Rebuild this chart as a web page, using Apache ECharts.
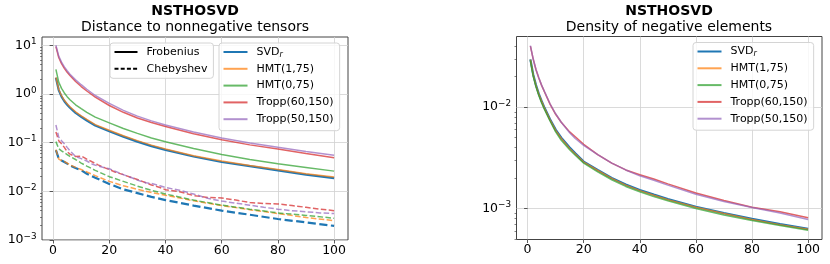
<!DOCTYPE html>
<html><head><meta charset="utf-8">
<script src="https://cdn.jsdelivr.net/npm/echarts@6/dist/echarts.min.js"></script>
<style>html,body{margin:0;padding:0;background:#fff}#c{width:830px;height:264px}</style>
</head><body><div id="c"></div>
<script>
// ---- data ----
const methods = ['SVD_r', 'HMT(1,75)', 'HMT(0,75)', 'Tropp(60,150)', 'Tropp(50,150)'];
const styleNames = ['Frobenius', 'Chebyshev'];
const xTicks = [0, 20, 40, 60, 80, 100];
const yTicksLeft = [0.001, 0.01, 0.1, 1, 10];
const yTicksRight = [0.001, 0.01];

const xsA = [1,2,3,4,5,6,8,10,12,15,20,25,30,35,40,50,60,70,80,90,100];
const xsB = [1,2,3,4,5,6,8,10,12,14,16,18,20,22,25,28,30,33,35,38,40,45,50,55,60,65,70,75,80,85,90,95,100];
const xsR = [1,2,3,4,5,6,8,10,12,15,17,20,25,30,35,40,45,50,60,70,80,90,100];

// Frobenius distance (left, solid), sampled at xsA
const svdF     = [2.15,1.2,0.88,0.71,0.6,0.52,0.41,0.34,0.285,0.225,0.172,0.133,0.105,0.085,0.071,0.052,0.040,0.033,0.027,0.022,0.0186];
const hmt175F  = [2.2,1.25,0.92,0.74,0.63,0.545,0.43,0.355,0.3,0.235,0.18,0.139,0.11,0.089,0.074,0.054,0.042,0.034,0.028,0.023,0.0197];
const hmt075F  = [3.2,1.75,1.3,1.05,0.88,0.76,0.6,0.5,0.42,0.335,0.255,0.195,0.155,0.125,0.104,0.076,0.057,0.045,0.037,0.031,0.026];
const tropp60F = [9.4,5.6,4.2,3.35,2.8,2.4,1.8,1.42,1.15,0.86,0.58,0.42,0.32,0.26,0.215,0.152,0.115,0.09,0.074,0.06,0.049];
const tropp50F = [10.0,6.0,4.5,3.6,3.0,2.55,1.95,1.55,1.25,0.93,0.64,0.46,0.35,0.28,0.23,0.165,0.125,0.098,0.08,0.066,0.055];

// Chebyshev distance (left, dashed)
const svdC     = [0.07,0.047,0.043,0.040,0.037,0.034,0.030,0.027,0.023,0.019,0.0142,0.011,0.0092,0.0077,0.0066,0.0051,0.0040,0.0033,0.0027,0.0023,0.00195];
const hmt175C  = [0.072,0.046,0.043,0.041,0.038,0.035,0.031,0.028,0.025,0.021,0.016,0.013,0.011,0.0095,0.0083,0.0064,0.0051,0.0042,0.0035,0.0029,0.0025];
const hmt075C  = [0.105,0.075,0.068,0.062,0.057,0.052,0.045,0.038,0.033,0.027,0.020,0.016,0.0128,0.0105,0.0088,0.0066,0.0052,0.0043,0.0036,0.0032,0.0028];
const tropp60C = [0.165,0.11,0.095,0.08,0.065,0.058,0.052,0.053,0.046,0.04,0.035,0.031,0.028,0.025,0.022,0.019,0.0175,0.015,0.0135,0.012,0.0108,0.0098,0.0082,0.0075,0.0073,0.0066,0.0059,0.0056,0.0055,0.0051,0.0047,0.0043,0.0040];
const tropp50C = [0.23,0.13,0.11,0.095,0.08,0.068,0.052,0.047,0.042,0.036,0.033,0.031,0.029,0.026,0.022,0.019,0.017,0.015,0.0145,0.013,0.012,0.0105,0.0088,0.0072,0.0063,0.0057,0.0052,0.0047,0.0043,0.0040,0.0038,0.0036,0.0035];

// Density of negative elements (right), sampled at xsR
const svdD     = [0.0296,0.021,0.0165,0.0135,0.0115,0.0099,0.0076,0.0060,0.0050,0.0040,0.0035,0.0029,0.0024,0.0020,0.00172,0.00152,0.00137,0.00124,0.00104,0.0009,0.00079,0.0007,0.00063];
const hmt175D  = [0.0294,0.0208,0.0163,0.0134,0.0114,0.0098,0.0075,0.0059,0.0049,0.0039,0.00345,0.00287,0.00237,0.00198,0.0017,0.0015,0.00135,0.00122,0.00103,0.00089,0.00078,0.00069,0.000625];
const hmt075D  = [0.0290,0.0203,0.0159,0.0130,0.0110,0.0095,0.0073,0.0057,0.0047,0.0038,0.00335,0.0028,0.0023,0.00192,0.00165,0.00146,0.00131,0.00119,0.001,0.00086,0.00076,0.00068,0.00061];
const tropp60D = [0.040,0.0298,0.0234,0.0194,0.0164,0.0142,0.0107,0.0085,0.0071,0.0057,0.0051,0.0043,0.0034,0.0028,0.0024,0.00215,0.00195,0.00175,0.00142,0.0012,0.00103,0.00093,0.00081];
const tropp50D = [0.0404,0.030,0.0235,0.0195,0.0165,0.0143,0.0108,0.0086,0.0071,0.0056,0.0049,0.0042,0.0034,0.0028,0.0024,0.0021,0.0019,0.0017,0.00138,0.00117,0.00102,0.0009,0.00078];

// ---- chart ----
const colors = ['#1f77b4', '#ff7f0e', '#2ca02c', '#d62728', '#9467bd'];
const widths = [2.2, 1.5, 1.5, 1.5, 1.5];
const opac = [1, 0.72, 0.72, 0.72, 0.72];
const frob = [svdF, hmt175F, hmt075F, tropp60F, tropp50F];
const cheb = [svdC, hmt175C, hmt075C, tropp60C, tropp50C];
const chebX = [xsA, xsA, xsA, xsB, xsB];
const dens = [svdD, hmt175D, hmt075D, tropp60D, tropp50D];

function pairs(xs, ys) { return xs.map((x, i) => [x, ys[i]]); }
function minorTicks(lo, hi) {
  const out = [];
  for (let e = -5; e <= 2; e++) for (let m = 2; m <= 9; m++) {
    const v = m * Math.pow(10, e);
    if (v >= lo && v <= hi) out.push(v);
  }
  return out;
}
const F = 'DejaVu Sans';
function supLabel(v) {
  const e = Math.round(Math.log10(v));
  return '10{sup|' + (e < 0 ? '\u2212' + (-e) : e) + '}';
}
const yLabel = {
  show: true, margin: 5.5, color: '#000', fontFamily: F, fontSize: 12.5, lineHeight: 16,
  formatter: supLabel,
  rich: { sup: { fontFamily: F, fontSize: 8.8, lineHeight: 9, verticalAlign: 'top', color: '#000' } }
};
const leftRange = [0.001, 14.8];
const rightRange = [4.94e-4, 0.0498];

function mainY(gi, range, ticks) {
  return {
    type: 'log', logBase: 10, gridIndex: gi, min: range[0], max: range[1], position: 'left',
    axisLine: { show: false },
    axisTick: { show: true, length: 3.5, customValues: ticks, lineStyle: { color: '#333', width: 0.8 } },
    axisLabel: Object.assign({ customValues: ticks }, yLabel),
    splitLine: { show: true, lineStyle: { color: '#d0d0d0', width: 0.8 } }
  };
}
function minorY(gi, range) {
  return {
    type: 'log', logBase: 10, gridIndex: gi, min: range[0], max: range[1], position: 'left', offset: 0,
    axisLine: { show: false },
    axisTick: { show: true, length: 2, customValues: minorTicks(range[0], range[1]), lineStyle: { color: '#333', width: 0.6 } },
    axisLabel: { show: false }, splitLine: { show: false }
  };
}
function xAx(gi) {
  return {
    type: 'value', gridIndex: gi, min: -3.95, max: 104.95,
    axisLine: { show: false },
    axisTick: { show: true, length: 3.5, customValues: xTicks, lineStyle: { color: '#333', width: 0.8 } },
    axisLabel: { customValues: xTicks, margin: 4, color: '#000', fontFamily: F, fontSize: 12.5 },
    splitLine: { show: true, lineStyle: { color: '#d0d0d0', width: 0.8 } }
  };
}

const series = [];
methods.forEach((m, i) => {
  series.push({
    name: m, type: 'line', xAxisIndex: 0, yAxisIndex: 0, symbol: 'none', z: 3 + (i === 0 ? 0 : 1),
    data: pairs(xsA, frob[i]),
    lineStyle: { color: colors[i], width: widths[i], opacity: opac[i] }, itemStyle: { color: colors[i] }
  });
  series.push({
    name: m, type: 'line', xAxisIndex: 0, yAxisIndex: 0, symbol: 'none', z: 3,
    data: pairs(chebX[i], cheb[i]),
    lineStyle: { color: colors[i], width: widths[i], opacity: opac[i], type: [3.7 * widths[i], 1.6 * widths[i]] },
    itemStyle: { color: colors[i] }
  });
  series.push({
    name: m, type: 'line', xAxisIndex: 1, yAxisIndex: 2, symbol: 'none', z: 3,
    data: pairs(xsR, dens[i]),
    lineStyle: { color: colors[i], width: widths[i], opacity: opac[i] }, itemStyle: { color: colors[i] }
  });
});
styleNames.forEach((s, i) => {
  series.push({
    name: s, type: 'line', xAxisIndex: 0, yAxisIndex: 0, symbol: 'none', data: [],
    lineStyle: { color: '#000', width: 1.3, type: i === 0 ? 'solid' : [4, 2.2] }, itemStyle: { color: '#000' }
  });
});

const legendBase = {
  orient: 'vertical', itemWidth: 24, itemHeight: 10, itemGap: 3.8,
  itemStyle: { opacity: 0, borderWidth: 0 },
  backgroundColor: 'rgba(255,255,255,0.8)', borderColor: '#d4d4d4', borderWidth: 1, borderRadius: 3,
  textStyle: { fontFamily: F, fontSize: 11, color: '#000', lineHeight: 13, padding: [0, 0, 0, 4],
    rich: { sub: { fontFamily: F, fontSize: 8, fontStyle: 'italic', lineHeight: 9, verticalAlign: 'bottom', color: '#000' } } },
  formatter: n => n === 'SVD_r' ? 'SVD{sub|r}' : n,
  selectedMode: false
};

const titleStyle = { fontFamily: F, fontSize: 14, fontWeight: 'bold', color: '#000', lineHeight: 14 };
const subStyle = { fontFamily: F, fontSize: 14, fontWeight: 'normal', color: '#000', lineHeight: 14 };

const option = {
  backgroundColor: '#fff',
  animation: false,
  title: [
    { text: 'NSTHOSVD', left: 195, top: 4, textAlign: 'center', textStyle: titleStyle, padding: 0 },
    { text: 'Distance to nonnegative tensors', left: 195, top: 20.5, textAlign: 'center', textStyle: subStyle, padding: 0 },
    { text: 'NSTHOSVD', left: 669, top: 4, textAlign: 'center', textStyle: titleStyle, padding: 0 },
    { text: 'Density of negative elements', left: 669, top: 20.5, textAlign: 'center', textStyle: subStyle, padding: 0 }
  ],
  grid: [
    { left: 42, top: 37, width: 306, height: 203, show: true, borderColor: '#444', borderWidth: 1, backgroundColor: 'transparent' },
    { left: 516.5, top: 36.5, width: 305.5, height: 203, show: true, borderColor: '#444', borderWidth: 1, backgroundColor: 'transparent' }
  ],
  xAxis: [xAx(0), xAx(1)],
  yAxis: [mainY(0, leftRange, yTicksLeft), minorY(0, leftRange), mainY(1, rightRange, yTicksRight), minorY(1, rightRange)],
  legend: [
    Object.assign({}, legendBase, { data: styleNames, left: 110, top: 43, padding: [2.5, 6, 3, 3.5], itemWidth: 23 }),
    Object.assign({}, legendBase, { data: methods, left: 219, top: 43, padding: [2.5, 6, 5, 3.5] }),
    Object.assign({}, legendBase, { data: methods, left: 693, top: 42.5, padding: [2.5, 6, 5, 3.5] })
  ],
  series: series
};
const chart = echarts.init(document.getElementById('c'), null, { renderer: 'canvas' });
chart.setOption(option);
</script>
</body></html>
